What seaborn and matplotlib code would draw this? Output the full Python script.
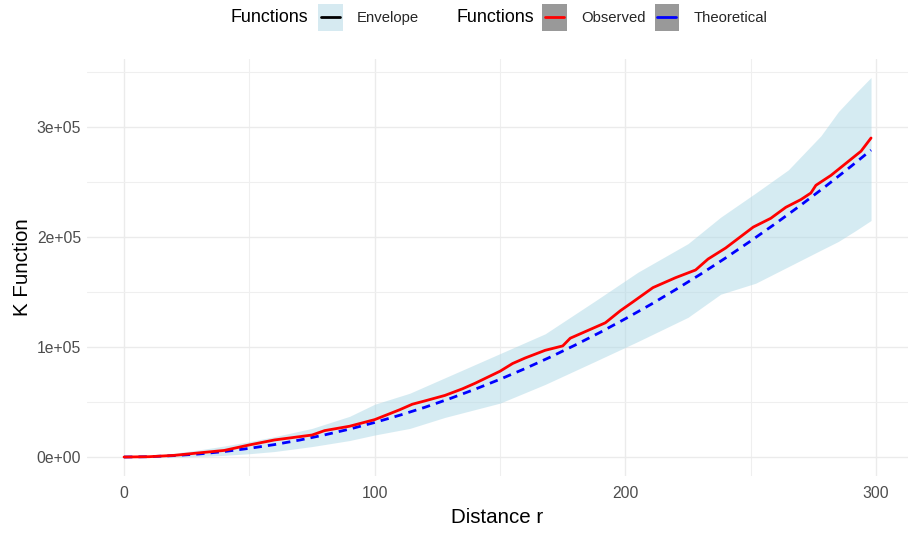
import numpy as np
import pandas as pd
import matplotlib
matplotlib.use("Agg")
import matplotlib.pyplot as plt
from matplotlib.lines import Line2D
from matplotlib.patches import Rectangle
import seaborn as sns

# ---- data ----
obs_r = [0, 10, 20, 30, 40, 50, 60, 70, 75, 80, 90, 100, 110, 115, 120, 128, 135, 140,
         150, 155, 160, 168, 175, 178, 185, 192, 198, 203, 211, 220, 228, 233, 240, 251,
         258, 264, 270, 274, 276, 282, 288, 294, 298]
obs_k = [0, 300, 1500, 3800, 6000, 11000, 15500, 18500, 20000, 24000, 28000, 34000,
         43000, 48000, 51000, 56000, 62000, 67000, 78000, 85000, 90000, 97000, 101000,
         108000, 115000, 122000, 133000, 141000, 154000, 163000, 170000, 180000, 190000,
         209000, 217000, 227000, 234000, 240000, 247000, 256000, 267000, 278000, 290000]

theo_r = [0, 10, 20, 30, 40, 50, 60, 70, 80, 90, 100, 110, 120, 130, 140, 150, 160, 170,
          180, 190, 200, 210, 220, 230, 240, 250, 260, 270, 280, 290, 298]
theo_k = [0, 300, 1300, 2800, 5000, 7900, 11300, 15400, 20100, 25400, 31400, 38000,
          45200, 53100, 61600, 70700, 80400, 90800, 101800, 113400, 125700, 138500,
          152100, 166200, 181000, 196400, 212400, 229000, 246300, 264200, 279000]

env_r = [0, 10, 20, 30, 40, 50, 60, 75, 90, 100, 114, 128, 150, 168, 188, 205, 225, 238,
         252, 265, 278, 285, 292, 298]
env_lo = [0, 0, 0, 500, 1500, 3000, 5000, 9500, 15000, 20000, 26000, 36000, 49000,
          66000, 87000, 105000, 127000, 148000, 158000, 173000, 188000, 196000, 206000, 215000]
env_hi = [0, 600, 3500, 6500, 10000, 14000, 18500, 26000, 37000, 48000, 58000, 72000,
          94000, 112000, 142000, 168000, 194000, 218000, 240000, 261000, 292000, 314000,
          331000, 345000]

x_ticks = [0, 100, 200, 300]
y_ticks = [0, 100000, 200000, 300000]
y_tick_labels = ["0e+00", "1e+05", "2e+05", "3e+05"]

obs_df = pd.DataFrame({"r": obs_r, "K": obs_k})
theo_df = pd.DataFrame({"r": theo_r, "K": theo_k})
env_df = pd.DataFrame({"r": env_r, "lo": env_lo, "hi": env_hi})

# ---- style ----
sns.set_theme(style="white")
plt.rcParams["font.family"] = ["Liberation Sans", "DejaVu Sans"]

W, H = 911, 533
fig = plt.figure(figsize=(W / 100, H / 100), dpi=100)
left, right, top, bottom = 86.7, 908.4, 58.5, 476.0
ax = fig.add_axes([left / W, 1 - bottom / H, (right - left) / W, (bottom - top) / H])

ax.fill_between(env_df["r"], env_df["lo"], env_df["hi"], color="#ADD8E6",
                alpha=0.5, linewidth=0, zorder=2)
sns.lineplot(data=theo_df, x="r", y="K", ax=ax, color="blue", linewidth=2.0,
             linestyle=(0, (3.0, 2.2)), estimator=None, sort=True, zorder=3)
sns.lineplot(data=obs_df, x="r", y="K", ax=ax, color="red", linewidth=2.0,
             estimator=None, sort=True, zorder=4)

ax.set_xlim(-14.9, 312.9)
ax.set_ylim(-17250, 362250)
ax.set_xticks(x_ticks)
ax.set_xticklabels([str(t) for t in x_ticks])
ax.set_yticks(y_ticks)
ax.set_yticklabels(y_tick_labels)
ax.set_xticks([50, 150, 250], minor=True)
ax.set_yticks([50000, 150000, 250000, 350000], minor=True)
ax.grid(True, which="major", color="#EBEBEB", linewidth=1.0, zorder=0)
ax.grid(True, which="minor", color="#EFEFEF", linewidth=0.8, zorder=0)
ax.set_axisbelow(True)
for s in ax.spines.values():
    s.set_visible(False)
ax.tick_params(axis="both", which="both", length=0, labelsize=11.3, colors="#4D4D4D")
ax.tick_params(axis="x", pad=7)
ax.tick_params(axis="y", pad=4)
ax.set_xlabel("Distance r", fontsize=14.8, color="black", labelpad=5)
ax.set_ylabel("K Function", fontsize=14.8, color="black", labelpad=3)


# ---- legends ----
class Key:
    def __init__(self, bg, line):
        self.bg = bg
        self.line = line


class KeyHandler:
    def legend_artist(self, legend, orig_handle, fontsize, handlebox):
        x0, y0 = -handlebox.xdescent, -handlebox.ydescent
        w, h = handlebox.width, handlebox.height
        tr = handlebox.get_transform()
        rect = Rectangle((x0, y0), w, h, facecolor=orig_handle.bg, edgecolor="none",
                         transform=tr)
        ln = Line2D([x0 + 0.12 * w, x0 + 0.88 * w], [y0 + h / 2, y0 + h / 2],
                    color=orig_handle.line, linewidth=2.0, transform=tr)
        handlebox.add_artist(rect)
        handlebox.add_artist(ln)
        return rect


ly = 1 - 17.5 / H
fs = 10.7
fig.text(231 / W, ly, "Functions", fontsize=12.9, ha="left", va="center", color="black")
fig.text(456 / W, ly, "Functions", fontsize=12.9, ha="left", va="center", color="black")

env_key = Key("#D6EAF1", "black")
obs_key = Key("#999999", "red")
theo_key = Key("#999999", "blue")

common = dict(frameon=False, fontsize=fs, handlelength=1.68, handleheight=2.4,
              handletextpad=0.95, borderpad=0, borderaxespad=0, loc="center left",
              handler_map={Key: KeyHandler()})
leg1 = fig.legend([env_key], ["Envelope"], bbox_to_anchor=(318 / W, ly), **common)
leg2 = fig.legend([obs_key, theo_key], ["Observed", "Theoretical"], ncol=2,
                  columnspacing=0.6, bbox_to_anchor=(542 / W, ly), **common)

fig.savefig("out.png", dpi=100)
